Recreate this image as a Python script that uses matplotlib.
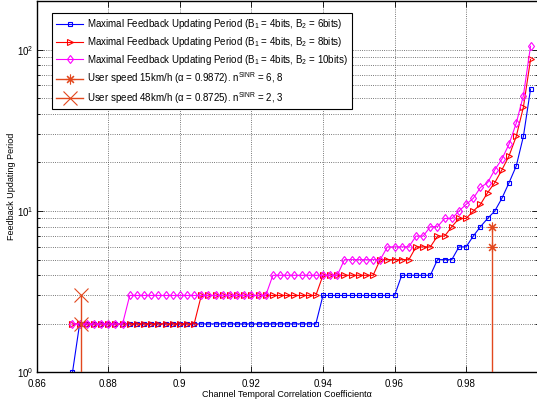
import numpy as np
import matplotlib
matplotlib.use('Agg')
import matplotlib.pyplot as plt
from matplotlib.lines import Line2D
from matplotlib.ticker import FuncFormatter, NullLocator

# channel temporal correlation coefficient (x axis samples)
alpha = [0.870, 0.872, 0.874, 0.876, 0.878, 0.880, 0.882, 0.884, 0.886, 0.888,
         0.890, 0.892, 0.894, 0.896, 0.898, 0.900, 0.902, 0.904, 0.906, 0.908,
         0.910, 0.912, 0.914, 0.916, 0.918, 0.920, 0.922, 0.924, 0.926, 0.928,
         0.930, 0.932, 0.934, 0.936, 0.938, 0.940, 0.942, 0.944, 0.946, 0.948,
         0.950, 0.952, 0.954, 0.956, 0.958, 0.960, 0.962, 0.964, 0.966, 0.968,
         0.970, 0.972, 0.974, 0.976, 0.978, 0.980, 0.982, 0.984, 0.986, 0.988,
         0.990, 0.992, 0.994, 0.996, 0.998]

# maximal feedback updating period, B1 = 4bits
period_b6 = [1, 2, 2, 2, 2, 2, 2, 2, 2, 2,
             2, 2, 2, 2, 2, 2, 2, 2, 2, 2,
             2, 2, 2, 2, 2, 2, 2, 2, 2, 2,
             2, 2, 2, 2, 2, 3, 3, 3, 3, 3,
             3, 3, 3, 3, 3, 3, 4, 4, 4, 4,
             4, 5, 5, 5, 6, 6, 7, 8, 9, 10,
             12, 15, 19, 29, 57]

period_b8 = [2, 2, 2, 2, 2, 2, 2, 2, 2, 2,
             2, 2, 2, 2, 2, 2, 2, 2, 3, 3,
             3, 3, 3, 3, 3, 3, 3, 3, 3, 3,
             3, 3, 3, 3, 3, 4, 4, 4, 4, 4,
             4, 4, 4, 5, 5, 5, 5, 5, 6, 6,
             6, 7, 7, 8, 9, 9, 10, 11, 13, 15,
             18, 22, 29, 44, 87]

period_b10 = [2, 2, 2, 2, 2, 2, 2, 2, 3, 3,
              3, 3, 3, 3, 3, 3, 3, 3, 3, 3,
              3, 3, 3, 3, 3, 3, 3, 3, 4, 4,
              4, 4, 4, 4, 4, 4, 4, 4, 5, 5,
              5, 5, 5, 5, 6, 6, 6, 6, 7, 7,
              8, 8, 9, 9, 10, 11, 12, 14, 15, 18,
              21, 26, 35, 52, 105]

# user speed operating points
speed15_alpha = 0.9872
speed15_n = [6, 8]
speed48_alpha = 0.8725
speed48_n = [2, 3]

labels = ['Maximal Feedback Updating Period (B$_1$ = 4bits, B$_2$ = 6bits)',
          'Maximal Feedback Updating Period (B$_1$ = 4bits, B$_2$ = 8bits)',
          'Maximal Feedback Updating Period (B$_1$ = 4bits, B$_2$ = 10bits)',
          'User speed 15km/h (\u03b1 = 0.9872). n$^{\\mathrm{SINR}}$ = 6, 8',
          'User speed 48km/h (\u03b1 = 0.8725). n$^{\\mathrm{SINR}}$ = 2, 3']


def main():
    plt.rcParams['font.family'] = ['Liberation Sans', 'DejaVu Sans']
    plt.rcParams['mathtext.fontset'] = 'custom'
    plt.rcParams['mathtext.rm'] = 'Liberation Sans'
    plt.rcParams['mathtext.it'] = 'Liberation Sans:italic'
    plt.rcParams['mathtext.bf'] = 'Liberation Sans:bold'

    fig = plt.figure(figsize=(5.37, 4.0), dpi=100)
    ax = fig.add_axes([0.0683, 0.0688, 0.933, 0.9285])

    ymin, ymax = 1, 200
    speed_col = '#E2481E'

    l1, = ax.plot(alpha, period_b6, '-s', color='#0000FF', lw=0.8, ms=3.5,
                  mfc='none', mew=0.8)
    l2, = ax.plot(alpha, period_b8, '->', color='#FF0000', lw=0.8, ms=4.3,
                  mfc='none', mew=0.8)
    l3, = ax.plot(alpha, period_b10, '-d', color='#FF00FF', lw=0.8, ms=4.5,
                  mfc='none', mew=0.8)

    # stems for the two user speeds
    ax.plot([speed15_alpha, speed15_alpha], [ymin, max(speed15_n)],
            color=speed_col, lw=1.0, zorder=4)
    ax.plot([speed15_alpha] * len(speed15_n), speed15_n, ls='none',
            marker=(8, 2, 0), ms=7, mew=0.8, color=speed_col, zorder=5)
    ax.plot([speed48_alpha, speed48_alpha], [ymin, max(speed48_n)],
            color=speed_col, lw=1.0, zorder=4)
    ax.plot([speed48_alpha] * len(speed48_n), speed48_n, ls='none',
            marker='x', ms=10, mew=0.8, color=speed_col, zorder=5)

    h4 = Line2D([], [], color=speed_col, lw=1.0, marker=(8, 2, 0), ms=7,
                mew=0.8)
    h5 = Line2D([], [], color=speed_col, lw=1.0, marker='x', ms=10,
                mew=0.8)

    ax.set_yscale('log')
    ax.set_xlim(0.86, 1.0)
    ax.set_ylim(ymin, ymax)
    ax.set_xticks([0.86, 0.88, 0.90, 0.92, 0.94, 0.96, 0.98])
    ax.xaxis.set_major_formatter(FuncFormatter(lambda v, p: '%g' % v))
    ax.xaxis.set_minor_locator(NullLocator())

    ax.grid(True, which='major', ls=':', color='0.3', lw=0.6)
    ax.grid(True, which='minor', axis='y', ls=':', color='0.3', lw=0.6)
    ax.tick_params(which='both', direction='in', top=True, right=True,
                   labelsize=7, width=0.6)
    ax.tick_params(which='major', length=4)
    ax.tick_params(axis='x', which='major', pad=4.5)
    ax.tick_params(axis='y', which='major', pad=2)
    ax.tick_params(which='minor', length=2.5)
    for s in ax.spines.values():
        s.set_linewidth(1.0)

    ax.set_xlabel('Channel Temporal Correlation Coefficient\u03b1',
                  fontsize=6.5, labelpad=1)
    ax.set_ylabel('Feedback Updating Period', fontsize=6.5, labelpad=1)

    leg = ax.legend([l1, l2, l3, h4, h5], labels, loc='upper left',
                    bbox_to_anchor=(0.031, 0.967), borderaxespad=0,
                    fontsize=7, numpoints=1, fancybox=False,
                    framealpha=1, edgecolor='k', handlelength=2.8,
                    handletextpad=0.4, labelspacing=0.38, borderpad=0.4)
    leg.get_frame().set_linewidth(0.8)

    fig.savefig('out.png', dpi=100)


if __name__ == '__main__':
    main()
